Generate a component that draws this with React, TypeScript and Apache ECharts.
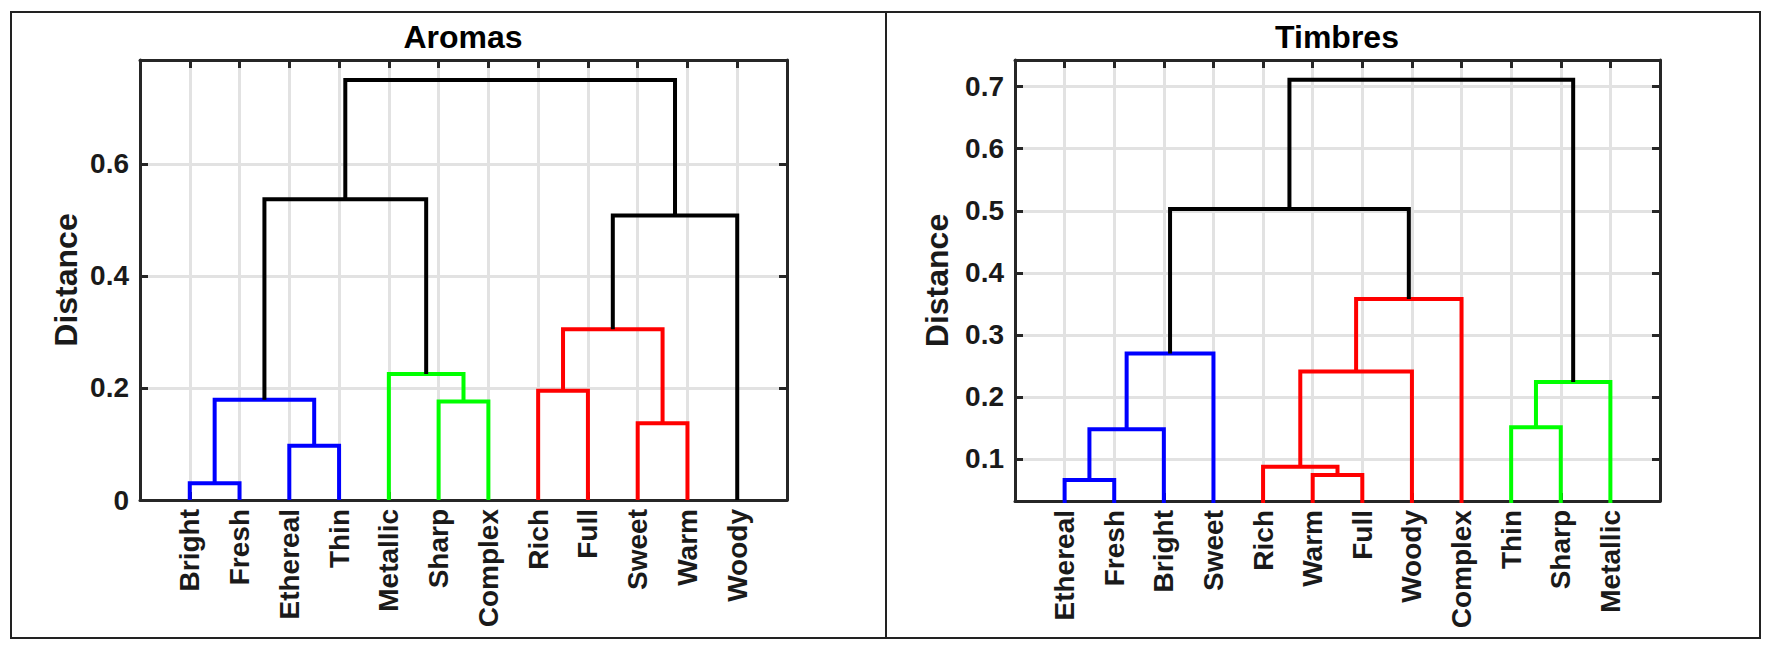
import React, { useEffect, useRef } from "react";
import * as echarts from "echarts";

// ---------- DATA ----------
const aromaLeaves = ["Bright", "Fresh", "Ethereal", "Thin", "Metallic", "Sharp", "Complex", "Rich", "Full", "Sweet", "Warm", "Woody"];
// merges: [leftNode, rightNode, height]; node ids >= leaves.length refer to earlier merges
const aromaMerges: [number, number, number][] = [
  [0, 1, 0.03],
  [2, 3, 0.097],
  [12, 13, 0.179],
  [5, 6, 0.176],
  [4, 15, 0.225],
  [7, 8, 0.195],
  [9, 10, 0.137],
  [17, 18, 0.305],
  [14, 16, 0.537],
  [19, 11, 0.508],
  [20, 21, 0.75],
];
// cluster group of each merge (0 = above the cut)
const aromaGroups = [1, 1, 1, 2, 2, 3, 3, 3, 0, 0, 0];

const timbreLeaves = ["Ethereal", "Fresh", "Bright", "Sweet", "Rich", "Warm", "Full", "Woody", "Complex", "Thin", "Sharp", "Metallic"];
const timbreMerges: [number, number, number][] = [
  [0, 1, 0.066],
  [12, 2, 0.148],
  [13, 3, 0.27],
  [5, 6, 0.074],
  [4, 15, 0.0876],
  [16, 7, 0.241],
  [17, 8, 0.358],
  [9, 10, 0.151],
  [19, 11, 0.224],
  [14, 18, 0.503],
  [21, 20, 0.711],
];
const timbreGroups = [1, 1, 1, 3, 3, 3, 3, 2, 2, 0, 0];

const aromaYRange = [0, 0.7857];
const aromaYTicks = 0.2;
const timbreYRange = [0.0323, 0.743];

// ---------- STYLE ----------
const groupColors = ["#000000", "#0000ff", "#00ff00", "#ff0000"];
const axisColor = "#262626";
const gridColor = "#e2e2e2";
const FONT = "'Liberation Sans', Arial, Helvetica, sans-serif";

function dendroSeries(
  leaves: string[],
  merges: [number, number, number][],
  groups: number[],
  xAxisIndex: number,
  yAxisIndex: number
) {
  const xs: number[] = leaves.map((_, i) => i + 1);
  const hs: number[] = leaves.map(() => 0);
  return merges.map(([a, b, h], k) => {
    const s = {
      type: "line",
      xAxisIndex,
      yAxisIndex,
      symbol: "none",
      silent: true,
      clip: true,
      z: 3,
      lineStyle: { color: groupColors[groups[k]], width: 4, join: "miter", cap: "butt" },
      data: [
        [xs[a], hs[a]],
        [xs[a], h],
        [xs[b], h],
        [xs[b], hs[b]],
      ],
    };
    xs.push((xs[a] + xs[b]) / 2);
    hs.push(h);
    return s;
  });
}

function xAxes(gridIndex: number, leaves: string[]) {
  const common = {
    type: "value",
    gridIndex,
    min: 0,
    max: leaves.length + 1,
    interval: 1,
    axisLine: { show: true, onZero: false, lineStyle: { color: axisColor, width: 3 } },
    axisTick: { show: true, inside: true, length: 8, lineStyle: { color: axisColor, width: 3 } },
  };
  return [
    {
      ...common,
      position: "bottom",
      splitLine: { show: true, lineStyle: { color: gridColor, width: 3 } },
      axisLabel: {
        rotate: 90,
        margin: 9,
        fontSize: 28,
        fontWeight: "bold",
        fontFamily: FONT,
        color: "#1a1a1a",
        formatter: (v: number) => leaves[Math.round(v) - 1] ?? "",
      },
    },
    {
      ...common,
      position: "top",
      splitLine: { show: false },
      axisLabel: { show: false },
    },
  ];
}

function yAxes(gridIndex: number, range: number[], extra: any, nameGap: number) {
  const common = {
    type: "value",
    gridIndex,
    min: range[0],
    max: range[1],
    ...extra,
    axisLine: { show: true, onZero: false, lineStyle: { color: axisColor, width: 3 } },
    axisTick: { show: true, inside: true, length: 8, lineStyle: { color: axisColor, width: 3 } },
  };
  return [
    {
      ...common,
      position: "left",
      name: "Distance",
      nameLocation: "middle",
      nameGap,
      nameTextStyle: { fontSize: 32, fontWeight: "bold", fontFamily: FONT, color: "#1a1a1a" },
      splitLine: { show: true, lineStyle: { color: gridColor, width: 3 } },
      axisLabel: {
        margin: 11,
        fontSize: 28,
        fontWeight: "bold",
        fontFamily: FONT,
        color: "#1a1a1a",
        showMinLabel: range[0] === 0,
        showMaxLabel: false,
      },
    },
    {
      ...common,
      position: "right",
      splitLine: { show: false },
      axisLabel: { show: false },
    },
  ];
}

export default function App() {
  const ref = useRef<HTMLDivElement>(null);
  useEffect(() => {
    if (!ref.current) return;
    const chart = echarts.init(ref.current, undefined, { renderer: "svg" });
    const option: any = {
      animation: false,
      backgroundColor: "#ffffff",
      grid: [
        { left: 140, top: 60, width: 647, height: 440 },
        { left: 1015, top: 60, width: 645, height: 441 },
      ],
      xAxis: [...xAxes(0, aromaLeaves), ...xAxes(1, timbreLeaves)],
      yAxis: [
        ...yAxes(0, aromaYRange, { interval: aromaYTicks }, 58),
        ...yAxes(1, timbreYRange, { splitNumber: 7 }, 62),
      ],
      series: [
        ...dendroSeries(aromaLeaves, aromaMerges, aromaGroups, 0, 0),
        ...dendroSeries(timbreLeaves, timbreMerges, timbreGroups, 2, 2),
      ],
      graphic: [
        {
          type: "rect",
          shape: { x: 11, y: 12, width: 875, height: 626 },
          style: { fill: "none", stroke: "#222", lineWidth: 2 },
          silent: true,
        },
        {
          type: "rect",
          shape: { x: 886, y: 12, width: 874, height: 626 },
          style: { fill: "none", stroke: "#222", lineWidth: 2 },
          silent: true,
        },
        {
          type: "text",
          x: 463,
          y: 37,
          style: {
            text: "Aromas",
            fontSize: 32,
            fontWeight: "bold",
            fontFamily: FONT,
            fill: "#000",
            align: "center",
            verticalAlign: "middle",
          },
        },
        {
          type: "text",
          x: 1337,
          y: 37,
          style: {
            text: "Timbres",
            fontSize: 32,
            fontWeight: "bold",
            fontFamily: FONT,
            fill: "#000",
            align: "center",
            verticalAlign: "middle",
          },
        },
      ],
    };
    chart.setOption(option);
    return () => chart.dispose();
  }, []);
  return (
    <div
      ref={ref}
      style={{ position: "fixed", left: 0, top: 0, width: 1772, height: 650, background: "#fff" }}
    />
  );
}
